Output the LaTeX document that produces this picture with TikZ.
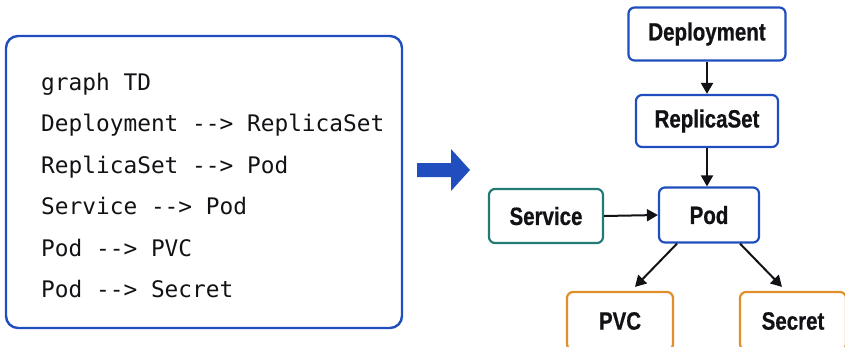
\documentclass[tikz,border=0pt]{standalone}
\usepackage{fontspec}
\setmainfont{Liberation Sans}
\setmonofont{DejaVu Sans Mono}
\newfontfamily\labelfont[FakeStretch=0.82, BoldFeatures={FakeBold=0.6}]{Liberation Sans}
\usetikzlibrary{positioning, arrows.meta}
\definecolor{kblue}{RGB}{32,78,190}
\definecolor{kteal}{RGB}{34,122,116}
\definecolor{korange}{RGB}{226,142,42}
\definecolor{ink}{RGB}{18,18,22}
\tikzset{
    res/.style = {draw, rounded corners=6pt, line width=2.2pt, fill=white, text=ink,
        font=\labelfont\bfseries\fontsize{25}{28}\selectfont, inner sep=0pt},
    link/.style = {draw=ink, line width=2pt, -{Triangle[length=11pt, width=12pt]}},
    codeline/.style = {anchor=base west, text=ink, font=\ttfamily\fontsize{22.8}{26}\selectfont, inner sep=0pt},
}

\begin{document}
\begin{tikzpicture}[x=1pt, y=-1pt]
    \useasboundingbox (0,0) rectangle (845,346);

    % mermaid source on the left
    \node[draw=kblue, line width=2.4pt, rounded corners=12pt, minimum width=396pt, minimum height=292pt] (src) at (204,182) {};
    \foreach \txt [count=\i from 0] in {graph TD, Deployment --> ReplicaSet, ReplicaSet --> Pod, Service --> Pod, Pod --> PVC, Pod --> Secret}
        \node[codeline] (line\i) at (41, 90+41.5*\i) {\txt};

    % big arrow between the two halves
    \fill[kblue] (417,163) -- (451,163) -- (451,149) -- (470,170) -- (451,191) -- (451,177) -- (417,177) -- cycle;

    % rendered graph
    \node[res, draw=kblue, minimum width=157pt, minimum height=53pt] (deploy) at (707,34) {Deployment};
    \node[res, draw=kblue, minimum width=142pt, minimum height=52pt] (rs) at (707,121) {ReplicaSet};
    \node[res, draw=kblue, minimum width=100pt, minimum height=55pt] (pod) at (709,215) {Pod};
    \node[res, draw=kteal, minimum width=114pt, minimum height=54pt] (svc) at (546,216) {Service};
    \node[res, draw=korange, minimum width=106pt, minimum height=58pt] (pvc) at (620,321) {PVC};
    \node[res, draw=korange, minimum width=106pt, minimum height=58pt] (secret) at (793,321) {Secret};

    \draw[link] (deploy) -- (rs);
    \draw[link] (rs.south) -- (rs.south |- pod.north);
    \draw[link] (svc.east) -- (pod.west);
    \draw[link] ([xshift=-32pt]pod.south) -- ([xshift=15pt, yshift=4pt]pvc.north);
    \draw[link] ([xshift=31pt]pod.south) -- ([xshift=-11pt, yshift=4pt]secret.north);
\end{tikzpicture}
\end{document}
